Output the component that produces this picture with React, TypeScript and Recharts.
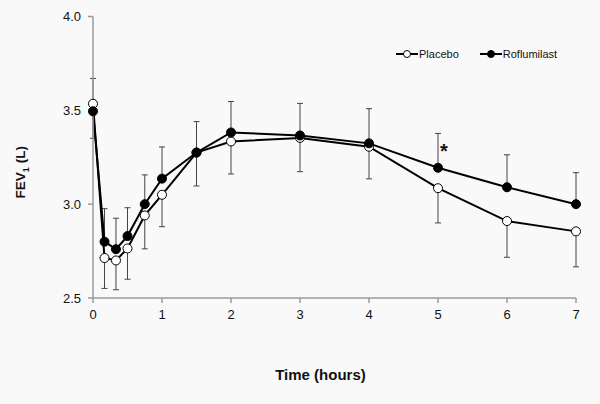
import React from 'react';
import { LineChart, Line, XAxis, YAxis, ErrorBar, Legend, LabelList } from 'recharts';

const times = [0, 0.167, 0.333, 0.5, 0.75, 1, 1.5, 2, 3, 4, 5, 6, 7];
const placebo = [3.535, 2.713, 2.7, 2.764, 2.94, 3.05, 3.275, 3.334, 3.353, 3.306, 3.085, 2.91, 2.855];
const roflumilast = [3.495, 2.8, 2.76, 2.83, 3.0, 3.136, 3.275, 3.382, 3.366, 3.324, 3.194, 3.09, 3.0];
const placeboErrLow = [0, 0.162, 0.156, 0.164, 0.178, 0.17, 0.178, 0.173, 0.18, 0.171, 0.185, 0.193, 0.189];
const placeboErrHigh = [0.135, 0, 0, 0, 0, 0, 0, 0, 0, 0, 0, 0, 0];
const roflErrLow = [0.144, 0, 0, 0, 0, 0, 0, 0, 0, 0, 0, 0, 0];
const roflErrHigh = [0, 0.176, 0.165, 0.151, 0.156, 0.169, 0.165, 0.165, 0.171, 0.185, 0.183, 0.173, 0.168];
const significance = ['', '', '', '', '', '', '', '', '', '', '*', '', ''];
const xTicks = [0, 1, 2, 3, 4, 5, 6, 7];
const yTicks = [2.5, 3.0, 3.5, 4.0];
const seriesNames = ['Placebo', 'Roflumilast'];

const data = times.map((t, i) => ({
  t,
  placebo: placebo[i],
  roflumilast: roflumilast[i],
  placeboErr: [placeboErrLow[i], placeboErrHigh[i]],
  roflErr: [roflErrLow[i], roflErrHigh[i]],
  sig: significance[i],
}));

const FONT = '"Liberation Sans", Arial, sans-serif';
const AXIS = '#9a9a9a';
const TEXT = '#111';

const renderLegend = () => (
  <div style={{ display: 'flex', alignItems: 'center', fontFamily: FONT, fontSize: 11, color: TEXT }}>
    {seriesNames.map((name, i) => (
      <div key={name} style={{ display: 'flex', alignItems: 'center', marginRight: i === 0 ? 21 : 0 }}>
        <svg width={22} height={10} style={{ display: 'block' }}>
          <line x1={0} y1={5} x2={22} y2={5} stroke="#000" strokeWidth={2} />
          <circle cx={11} cy={5} r={3.5} fill={i === 0 ? '#fff' : '#000'} stroke="#000" strokeWidth={1} />
        </svg>
        <span style={{ marginLeft: 1 }}>{name}</span>
      </div>
    ))}
  </div>
);

const YLabel = (props: any) => {
  const vb = props.viewBox || { x: 0, y: 16.5, width: 93, height: 295.5 };
  const cx = vb.x + 25;
  const cy = vb.y + vb.height / 2 + 15;
  return (
    <text
      x={cx}
      y={cy}
      transform={`rotate(-90 ${cx} ${cy})`}
      textAnchor="middle"
      fontFamily={FONT}
      fontSize={13.5}
      fontWeight="bold"
      fill={TEXT}
    >
      FEV<tspan fontSize={9} dy={4}>1</tspan>
      <tspan dy={-4}> (L)</tspan>
    </text>
  );
};

const XLabel = (props: any) => {
  const vb = props.viewBox || { x: 93, y: 312, width: 483, height: 30 };
  return (
    <text
      x={vb.x + vb.width / 2 - 14}
      y={vb.y + 82}
      textAnchor="middle"
      fontFamily={FONT}
      fontSize={15}
      fontWeight="bold"
      fill={TEXT}
    >
      Time (hours)
    </text>
  );
};

const Star = (props: any) => {
  if (!props.value) return null;
  return (
    <text
      x={props.x + 6}
      y={props.y - 10}
      textAnchor="middle"
      fontFamily={FONT}
      fontSize={20}
      fontWeight="bold"
      fill={TEXT}
    >
      {props.value}
    </text>
  );
};

export default function App() {
  return (
    <div style={{ position: 'fixed', top: 0, left: 0, right: 0, bottom: 0, background: '#f9f9f9' }}>
      <div style={{ position: 'absolute', top: 0, left: 0 }}>
        <LineChart width={600} height={404} data={data} margin={{ top: 16.5, right: 24, bottom: 62, left: 0 }}>
          <XAxis
            dataKey="t"
            type="number"
            domain={[0, 7]}
            ticks={xTicks}
            height={30}
            stroke={AXIS}
            strokeWidth={1.5}
            tickSize={5}
            tickMargin={7}
            tick={{ fill: TEXT, fontSize: 13, fontFamily: FONT }}
            label={<XLabel />}
          />
          <YAxis
            type="number"
            domain={[2.5, 4.0]}
            ticks={yTicks}
            width={93}
            stroke={AXIS}
            strokeWidth={1.5}
            tickSize={5}
            tickMargin={7}
            tickFormatter={(v: number) => v.toFixed(1)}
            tick={{ fill: TEXT, fontSize: 13, fontFamily: FONT }}
            label={<YLabel />}
          />
          <Legend content={renderLegend} wrapperStyle={{ position: 'absolute', top: 48, left: 396, width: 200, height: 14 }} />
          <Line
            name={seriesNames[0]}
            dataKey="placebo"
            stroke="#000"
            strokeWidth={2}
            dot={{ r: 4.5, fill: '#fff', stroke: '#000', strokeWidth: 1 }}
            activeDot={false}
            isAnimationActive={false}
          >
            <ErrorBar dataKey="placeboErr" direction="y" width={3} stroke="#444" strokeWidth={1} isAnimationActive={false} />
          </Line>
          <Line
            name={seriesNames[1]}
            dataKey="roflumilast"
            stroke="#000"
            strokeWidth={2}
            dot={{ r: 4.5, fill: '#000', stroke: '#000', strokeWidth: 1 }}
            activeDot={false}
            isAnimationActive={false}
          >
            <ErrorBar dataKey="roflErr" direction="y" width={3} stroke="#444" strokeWidth={1} isAnimationActive={false} />
            <LabelList dataKey="sig" content={<Star />} />
          </Line>
        </LineChart>
      </div>
    </div>
  );
}
